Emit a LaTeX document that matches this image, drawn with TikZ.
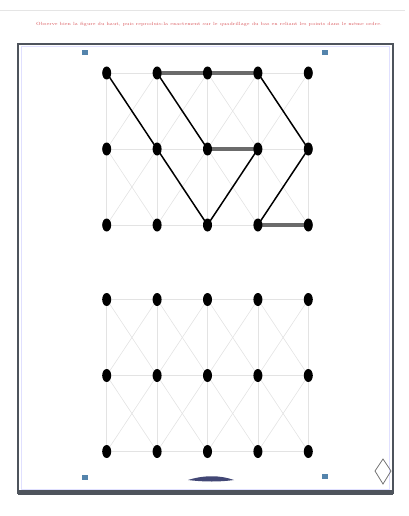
\documentclass[tikz,border=0pt]{standalone}
\usepackage{tikz}
\usetikzlibrary{shapes.geometric,positioning,backgrounds}
\definecolor{framegray}{RGB}{78,84,92}
\definecolor{pinblue}{RGB}{84,132,172}
\definecolor{textred}{RGB}{215,80,85}
\tikzset{dot/.style = {ellipse, fill=black, inner sep=0pt, minimum width=9pt, minimum height=13pt},
         pin/.style = {rectangle, fill=pinblue, inner sep=0pt, minimum width=6pt, minimum height=5pt},
         guide/.style = {draw=black!11, line width=0.6pt},
         stroke/.style = {draw=black, line width=1.5pt, line cap=round},
         bar/.style = {draw=black!58, line width=3.4pt},
}

\begin{document}
\begin{tikzpicture}[x=1pt, y=-1pt, node distance = 76pt and 50.4pt, on grid]

  \useasboundingbox (0,0) rectangle (409,516);
  \draw[black!10, line width=0.8pt] (0,10) -- (405,10);

  % instruction
  \node[text=textred, font=\fontsize{4.5}{5}\selectfont] (title) at (209,24)
    {Observe bien la figure du haut, puis reproduis-la exactement sur le quadrillage du bas en reliant les points dans le m\^eme ordre.};

  % frame
  \draw[blue!12, line width=1pt] (21.5,46.5) rectangle (389.5,489);
  \draw[framegray, line width=2.4pt] (18,44) rectangle (393,493);
  \draw[framegray, line width=5pt] (18,492) -- (393,492);

  % model grid
  \node[dot] (a11) at (106.7,73) {};
  \node[dot, right = of a11] (a12) {};
  \node[dot, right = of a12] (a13) {};
  \node[dot, right = of a13] (a14) {};
  \node[dot, right = of a14] (a15) {};
  \node[dot, below = of a11] (a21) {};
  \node[dot, right = of a21] (a22) {};
  \node[dot, right = of a22] (a23) {};
  \node[dot, right = of a23] (a24) {};
  \node[dot, right = of a24] (a25) {};
  \node[dot, below = of a21] (a31) {};
  \node[dot, right = of a31] (a32) {};
  \node[dot, right = of a32] (a33) {};
  \node[dot, right = of a33] (a34) {};
  \node[dot, right = of a34] (a35) {};

  % empty grid
  \node[dot] (b11) at (106.7,299.5) {};
  \node[dot, right = of b11] (b12) {};
  \node[dot, right = of b12] (b13) {};
  \node[dot, right = of b13] (b14) {};
  \node[dot, right = of b14] (b15) {};
  \node[dot, below = of b11] (b21) {};
  \node[dot, right = of b21] (b22) {};
  \node[dot, right = of b22] (b23) {};
  \node[dot, right = of b23] (b24) {};
  \node[dot, right = of b24] (b25) {};
  \node[dot, below = of b21] (b31) {};
  \node[dot, right = of b31] (b32) {};
  \node[dot, right = of b32] (b33) {};
  \node[dot, right = of b33] (b34) {};
  \node[dot, right = of b34] (b35) {};

  \begin{scope}[on background layer]
    \foreach \g in {a,b} {
      \foreach \r in {1,2,3} \foreach \c in {1,...,4} {
        \pgfmathtruncatemacro\d{\c+1}
        \draw[guide] (\g\r\c.center) -- (\g\r\d.center);
      }
      \foreach \r in {1,2} {
        \pgfmathtruncatemacro\s{\r+1}
        \foreach \c in {1,...,5} \draw[guide] (\g\r\c.center) -- (\g\s\c.center);
        \foreach \c in {1,...,4} {
          \pgfmathtruncatemacro\d{\c+1}
          \draw[guide] (\g\r\c.center) -- (\g\s\d.center);
          \draw[guide] (\g\r\d.center) -- (\g\s\c.center);
        }
      }
    }

    % figure to copy
    \draw[bar] (a12.center) -- (a13.center) -- (a14.center);
    \draw[bar] (a23.center) -- (a24.center);
    \draw[bar] (a34.center) -- (a35.center);
    \draw[stroke] (a11.center) -- (a22.center) -- (a33.center) -- (a24.center);
    \draw[stroke] (a12.center) -- (a23.center);
    \draw[stroke] (a14.center) -- (a25.center) -- (a34.center);
  \end{scope}

  % corner marks
  \node[pin] (pinNW) at (85,53) {};
  \node[pin] (pinNE) at (325,53) {};
  \node[pin] (pinSW) at (85,477) {};
  \node[pin] (pinSE) at (325,476) {};
  \fill[framegray!85!blue] (188,480) .. controls (204,475) and (220,475) .. (234,480)
    .. controls (220,482) and (204,482) .. (188,480) -- cycle;
  \draw[black!55, line width=0.8pt] (383,459) -- (391,471) -- (383,484) -- (375,471) -- cycle;

\end{tikzpicture}
\end{document}
